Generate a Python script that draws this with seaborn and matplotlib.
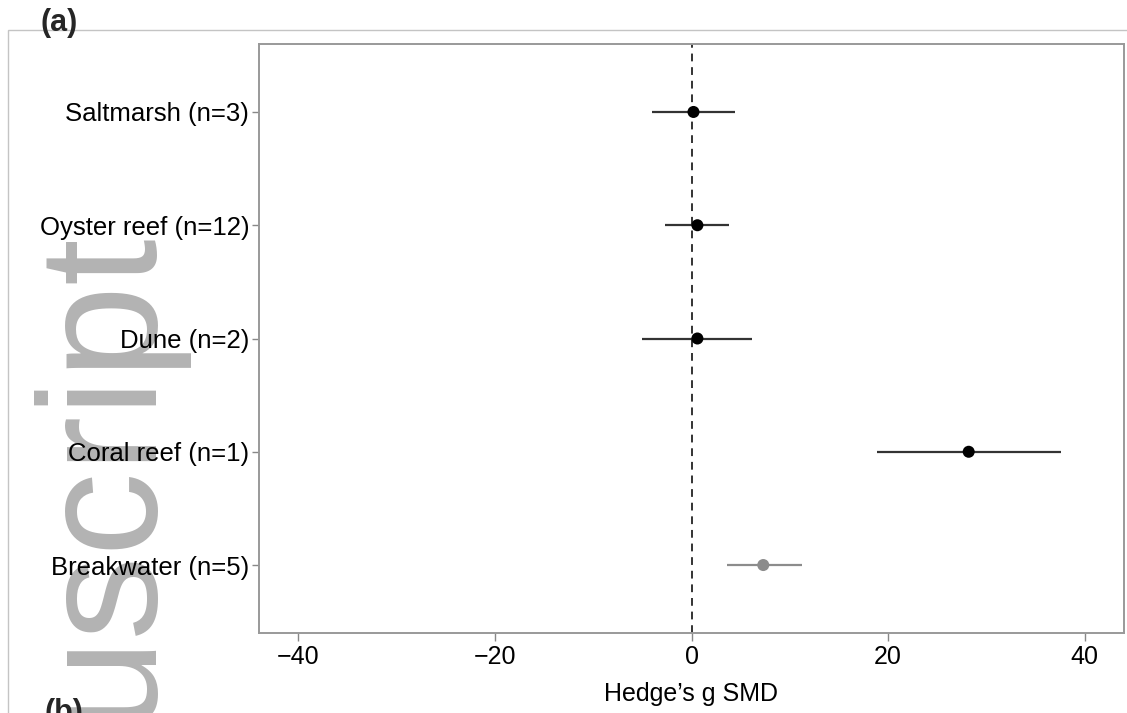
import numpy as np
import pandas as pd
import matplotlib.pyplot as plt
import seaborn as sns
from matplotlib.patches import Rectangle

# data
habitats = ['Saltmarsh (n=3)', 'Oyster reef (n=12)', 'Dune (n=2)',
            'Coral reef (n=1)', 'Breakwater (n=5)']
smd = [0.2, 0.6, 0.6, 28.2, 7.3]
ci_low = [-4.0, -2.7, -5.0, 18.9, 3.6]
ci_high = [4.4, 3.8, 6.2, 37.6, 11.2]
colors = ['black', 'black', 'black', 'black', '#8c8c8c']
xticks = [-40, -20, 0, 20, 40]

df = pd.DataFrame({'habitat': habitats, 'smd': smd, 'lo': ci_low, 'hi': ci_high})
df['pos'] = np.arange(len(df))

sns.set_style('white')
plt.rcParams['font.family'] = ['Liberation Sans', 'DejaVu Sans']

fig = plt.figure(figsize=(11.27, 7.13), dpi=100)
ax = fig.add_axes([259 / 1127, 1 - 633 / 713, (1124 - 259) / 1127, (633 - 44) / 713])

# confidence intervals
for _, row in df.iterrows():
    c = '#333333' if colors[row['pos']] == 'black' else '#8c8c8c'
    ax.hlines(row['pos'], row['lo'], row['hi'], color=c, lw=1.6, zorder=2)

sns.scatterplot(data=df, x='smd', y='pos', hue='habitat', palette=colors,
                s=75, edgecolor='none', legend=False, ax=ax, zorder=3)

ax.axvline(0, color='#333333', ls=(0, (4, 3)), lw=1.4, zorder=1)

ax.set_xlim(-44, 44)
ax.set_ylim(len(df) - 0.4, -0.6)
ax.set_xticks(xticks)
ax.set_xticklabels([str(t).replace('-', '\u2212') for t in xticks])
ax.set_yticks(df['pos'])
ax.set_yticklabels(habitats)
ax.set_xlabel("Hedge\u2019s g SMD", fontsize=18, color='black', labelpad=9)
ax.set_ylabel('')
ax.tick_params(axis='x', labelsize=18, labelcolor='black', length=6, width=1,
               color='#888888', bottom=True, pad=3)
ax.tick_params(axis='y', labelsize=18.5, labelcolor='black', length=5, width=1,
               color='#888888', left=True, pad=2)
for sp in ax.spines.values():
    sp.set_color('#999999')
    sp.set_linewidth(1.4)

# outer panel frame and panel letters
fig.add_artist(Rectangle((8 / 1127, -0.1), 1.2, 1 - 30 / 713 + 0.1, transform=fig.transFigure,
                         fill=False, edgecolor='#c4c4c4', lw=1.0, zorder=-2))
fig.text(41 / 1127, 1 - 31 / 713, '(a)', fontsize=22, fontweight='bold', va='baseline')
fig.text(45 / 1127, 1 - 721 / 713, '(b)', fontsize=22, fontweight='bold', va='baseline')

# manuscript watermark
fig.text(146 / 1127, 1 - 722 / 713, 'uscript', rotation=90, rotation_mode='anchor',
         ha='left', va='baseline', fontsize=121, color='#b3b3b3', zorder=-1)

fig.savefig('out.png', dpi=100)
